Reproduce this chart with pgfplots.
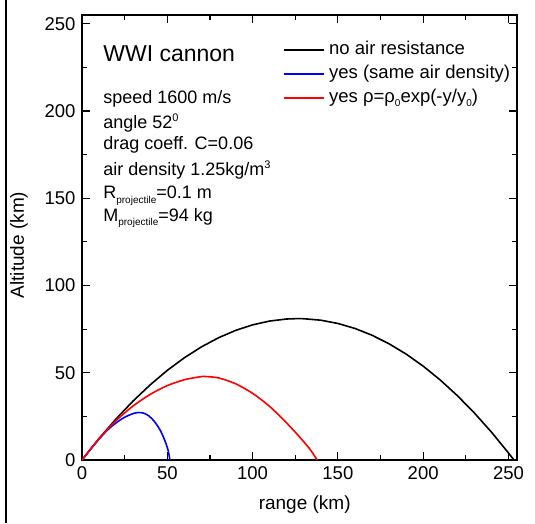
\documentclass[border=0pt]{standalone}
\usepackage{pgfplots}
\pgfplotsset{compat=1.18}
\usepackage{fontspec}
\setmainfont{Liberation Sans}
\newcommand{\mysub}[1]{\raisebox{-4.5pt}{\fontsize{10}{10}\selectfont #1}}
\newcommand{\mysup}[1]{\raisebox{7pt}{\fontsize{11}{11}\selectfont #1}}
\begin{document}
\begin{tikzpicture}
\useasboundingbox (-82pt,-63pt) rectangle (453pt,460pt);
\draw[line width=1.8pt] (-76pt,-63pt) -- (-76pt,460pt);
\begin{axis}[
  at={(0pt,0pt)}, anchor=south west,
  scale only axis, width=435pt, height=445pt,
  xmin=0, xmax=255, ymin=0, ymax=255,
  xtick={0,50,...,250}, ytick={0,50,...,250},
  minor tick num=1,
  tick align=inside,
  major tick length=8pt, minor tick length=5pt,
  axis line style={line width=1.6pt},
  every tick/.style={line width=1.2pt, black},
  /pgf/number format/assume math mode=true,
  tick label style={font=\fontsize{18.5}{22}\selectfont},
  xticklabel style={yshift=-3pt},
  yticklabel style={xshift=-3pt},
  label style={font=\fontsize{19}{23}\selectfont},
  xlabel={range (km)}, ylabel={Altitude (km)},
  xlabel style={at={(axis description cs:0.512,-0.101)}, anchor=center},
  ylabel style={at={(axis description cs:-0.145,0.483)}, anchor=center, rotate=0},
  legend style={at={(axis description cs:0.462,0.942)}, anchor=north west, draw=none, fill=none,
    font=\fontsize{18.5}{22}\selectfont, row sep=7pt, column sep=4pt, inner sep=0pt,
    nodes={inner sep=0pt, text height=13pt, text depth=4pt}},
  legend cell align=left,
  legend image code/.code={\draw[#1, line width=2pt] (0pt,0pt) -- (40pt,0pt);},
]
\addplot[color=black, line width=1.6pt] coordinates {
(0,0) (10,12.29) (20,23.58) (30,33.85) (40,43.11) (50,51.36) (60,58.59) (70,64.82)
(80,70.04) (90,74.25) (100,77.45) (110,79.63) (120,80.80) (126.6,81.04) (130,80.96)
(140,80.11) (150,78.25) (160,75.38) (170,71.50) (180,66.60) (190,60.70) (200,53.78)
(210,45.85) (220,36.91) (230,26.97) (240,16.01) (250,4.04) (253.2,0)
};
\addlegendentry{no air resistance}
\addplot[color=blue, line width=1.6pt, smooth] coordinates {
(0,0) (5,6.2) (10,12) (15,17.2) (20,21.3) (25,24.5) (30,26.6) (33,27.2) (36,26.9)
(39,25.4) (42,22.6) (45,18.5) (47,14.8) (49,10) (50.5,5.5) (51.5,0)
};
\addlegendentry{yes (same air density)}
\addplot[color=red, line width=1.6pt, smooth] coordinates {
(0,0) (10,12.2) (20,22.6) (30,31) (40,37.6) (50,42.6) (60,46) (70,47.8) (72,47.85)
(80,47.05) (90,43.7) (100,38.2) (110,30.7) (120,21.2) (128,12.7) (134,5.7) (137.8,0)
};
\addlegendentry{yes ρ=ρ\mysub{0}exp(-y/y\mysub{0})}
\node[anchor=west, font=\fontsize{23}{27}\selectfont, inner sep=0pt] at (axis cs:12.4,232.9) {WWI cannon};
\begin{scope}[every node/.style={anchor=west, font=\fontsize{18}{22}\selectfont, inner sep=0pt}]
\node at (axis cs:12.4,206.9) {speed 1600 m/s};
\node at (axis cs:12.4,193.1) {angle 52\mysup{0}};
\node at (axis cs:12.4,180.6) {drag coeff. C=0.06};
\node at (axis cs:12.4,166.2) {air density 1.25kg/m\mysup{3}};
\node at (axis cs:12.4,151.3) {R\mysub{projectile}=0.1 m};
\node at (axis cs:12.4,138.7) {M\mysub{projectile}=94 kg};
\end{scope}
\end{axis}
\end{tikzpicture}
\end{document}
